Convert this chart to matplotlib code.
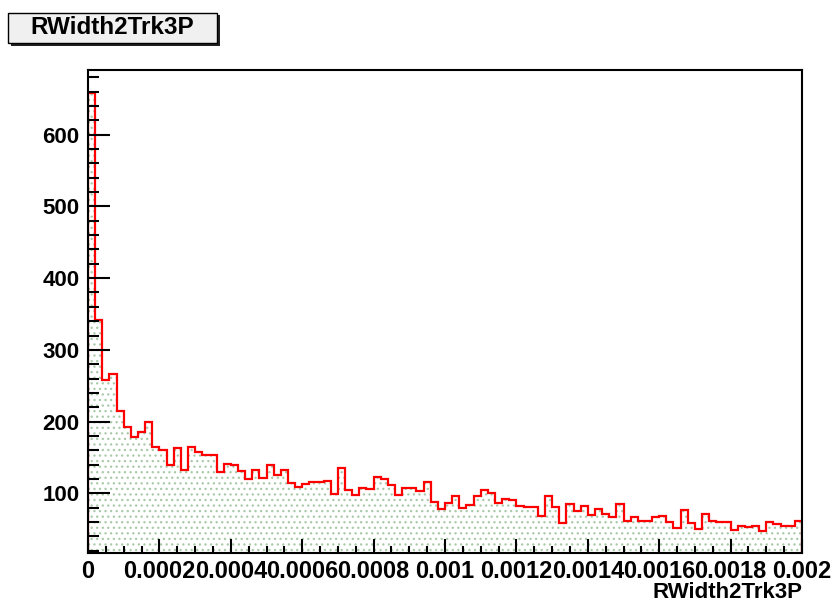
import matplotlib
matplotlib.use("Agg")
import matplotlib.pyplot as plt
from matplotlib.patches import Rectangle
from matplotlib.ticker import FixedLocator, MultipleLocator
import numpy as np

plt.rcParams.update({
    "font.family": ["Liberation Sans", "DejaVu Sans"],
    "font.weight": "bold",
    "hatch.linewidth": 0.9,
})

# 100 bins of width 2e-5 between 0 and 0.002
BIN_LO, BIN_HI, NBINS = 0.0, 0.002, 100
counts = [
    658, 341, 258, 267, 215, 192, 179, 185, 199, 165,
    161, 139, 164, 133, 165, 158, 153, 154, 130, 141,
    139, 131, 120, 133, 122, 139, 125, 132, 114, 109,
    113, 116, 116, 118, 99, 135, 105, 98, 107, 106,
    123, 120, 112, 98, 108, 108, 103, 116, 88, 79,
    87, 97, 80, 84, 97, 105, 100, 87, 92, 91,
    82, 81, 81, 69, 96, 81, 59, 85, 75, 82,
    70, 78, 72, 67, 85, 62, 67, 62, 61, 67,
    68, 60, 52, 77, 59, 51, 71, 62, 60, 60,
    49, 54, 53, 55, 47, 60, 57, 54, 54, 62,
]
xtick_vals = [0, 0.0002, 0.0004, 0.0006, 0.0008, 0.001,
              0.0012, 0.0014, 0.0016, 0.0018, 0.002]
xtick_labels = ["0", "0.0002", "0.0004", "0.0006", "0.0008", "0.001",
                "0.0012", "0.0014", "0.0016", "0.0018", "0.002"]
ytick_vals = [100, 200, 300, 400, 500, 600]
YMIN, YMAX = 17, 690
TITLE = "RWidth2Trk3P"

W, H = 834, 605
fig = plt.figure(figsize=(W / 100, H / 100), dpi=100)
ax = fig.add_axes([88 / W, 1 - 553 / H, (802 - 88) / W, (553 - 70) / H])

edges = np.linspace(BIN_LO, BIN_HI, NBINS + 1)
ax.stairs(counts, edges, baseline=YMIN, fill=True, facecolor="white",
          edgecolor="#a9c9a9", hatch="...", linewidth=0)
ax.stairs(counts, edges, baseline=YMIN, color="red", linewidth=1.6)

ax.set_xlim(BIN_LO, BIN_HI)
ax.set_ylim(YMIN, YMAX)

ax.xaxis.set_major_locator(FixedLocator(xtick_vals))
ax.set_xticklabels(xtick_labels)
ax.xaxis.set_minor_locator(MultipleLocator(0.00005))
ax.yaxis.set_major_locator(FixedLocator(ytick_vals))
ax.yaxis.set_minor_locator(MultipleLocator(20))

for s in ax.spines.values():
    s.set_linewidth(1.5)
    s.set_zorder(5)
ax.tick_params(axis="both", which="both", direction="in", width=1.5,
               top=False, right=False)
ax.tick_params(axis="x", which="major", length=10, pad=5, labelsize=17)
ax.tick_params(axis="x", which="minor", length=5)
ax.tick_params(axis="y", which="major", length=16, pad=6, labelsize=16)
ax.tick_params(axis="y", which="minor", length=8)
for lab in ax.get_xticklabels() + ax.get_yticklabels():
    lab.set_fontweight("bold")

# x axis title, right aligned under the frame
fig.text(802 / W, 1 - 593 / H, TITLE, ha="right", va="center",
         fontsize=16, fontweight="bold")

# ROOT style title box with shadow
fig.add_artist(Rectangle((11 / W, 1 - 45.5 / H), (217 - 8) / W, 30 / H,
                         transform=fig.transFigure, facecolor="#222222",
                         edgecolor="none"))
fig.add_artist(Rectangle((8 / W, 1 - 42.5 / H), (217 - 8) / W, 30 / H,
                         transform=fig.transFigure, facecolor="#f0f0f0",
                         edgecolor="black", linewidth=1.0))
fig.text(112.5 / W, 1 - 28 / H, TITLE, ha="center", va="center",
         fontsize=17.5, fontweight="bold")

fig.savefig("out.png", dpi=100)
